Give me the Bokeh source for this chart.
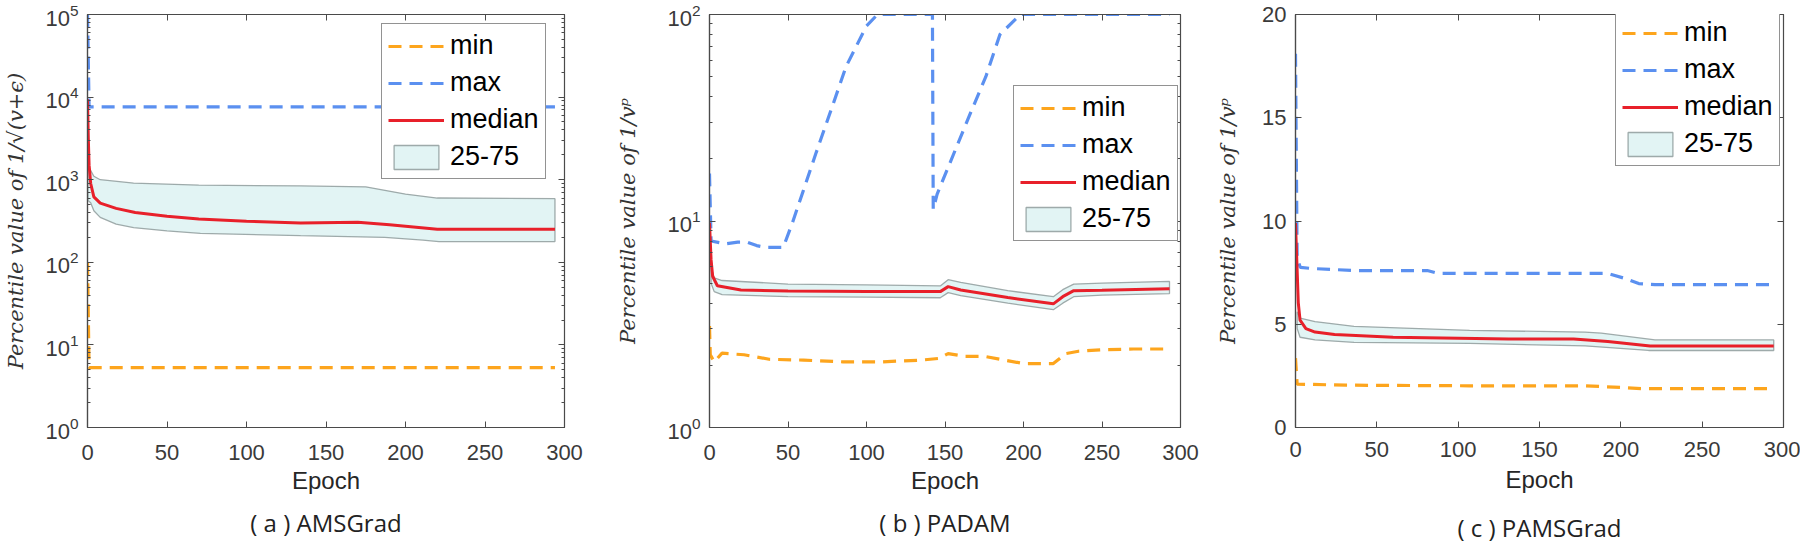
from bokeh.plotting import figure
from bokeh.layouts import row
from bokeh.models import (Range1d, FixedTicker, LinearAxis,
                          Legend, LegendItem, CustomJSTickFormatter)
from bokeh.embed import file_html
from bokeh.resources import INLINE

# ---------------- tick labels / texts ----------------
x_ticks = [0, 50, 100, 150, 200, 250, 300]
a_y_ticks = [1, 10, 100, 1000, 10000, 100000]
b_y_ticks = [1, 10, 100]
c_y_ticks = [0, 5, 10, 15, 20]
legend_labels = ["min", "max", "median", "25-75"]
captions = ["( a ) AMSGrad", "( b ) PADAM", "( c ) PAMSGrad"]
y_labels = ["Percentile value of 1/\u221a(v+\u03f5)",
            "Percentile value of 1/v\u1d56",
            "Percentile value of 1/v\u1d56"]

# ---------------- panel (a) AMSGrad ----------------
a_max_epoch = [0, 1, 294]
a_max = [100000, 7600, 7600]
a_min_epoch = [0, 1, 294]
a_min = [100, 5.3, 5.3]
a_med_epoch = [0, 0.5, 1, 2, 4, 8, 18, 30, 50, 70, 100, 134, 170, 190, 205, 220, 294]
a_med = [9400, 3200, 1500, 900, 620, 520, 450, 400, 360, 335, 315, 300, 305, 285, 268, 252, 252]
a_hi_epoch = [0.3, 1, 4, 8, 29, 70, 134, 175, 200, 220, 294]
a_p75 = [1650, 1400, 1100, 1000, 910, 860, 840, 820, 670, 600, 590]
a_lo_epoch = [0.3, 2, 4, 8, 18, 29, 50, 71, 134, 187, 211, 221, 294]
a_p25 = [560, 525, 420, 350, 290, 263, 240, 224, 210, 200, 186, 178, 178]

# ---------------- panel (b) PADAM ----------------
b_max_epoch = [0, 1, 10, 18, 24, 30, 36, 47, 53, 68, 78, 87, 100, 107, 142, 142.5, 145, 166, 176, 185, 198, 293]
b_max = [17, 8.0, 7.75, 7.9, 7.9, 7.6, 7.45, 7.45, 9.9, 21.5, 35.5, 56, 88, 100, 100, 11.4, 13.5, 33, 50, 80, 100, 100]
b_min_epoch = [0, 0.5, 3, 8, 22, 38, 60, 85, 110, 135, 146, 152, 163, 175, 188, 200, 219, 227, 235, 250, 270, 293]
b_min = [3.1, 2.25, 2.08, 2.29, 2.25, 2.14, 2.12, 2.08, 2.08, 2.12, 2.16, 2.28, 2.21, 2.21, 2.12, 2.04, 2.04, 2.28, 2.34, 2.38, 2.40, 2.40]
b_med_epoch = [0, 1, 2, 5, 20, 50, 100, 147, 152, 160, 190, 219, 225, 232, 250, 293]
b_med = [9.8, 6.5, 5.4, 4.86, 4.63, 4.58, 4.55, 4.55, 4.81, 4.63, 4.26, 3.97, 4.3, 4.6, 4.62, 4.7]
b_hi_epoch = [1, 3, 8, 50, 100, 147, 152, 160, 190, 219, 225, 232, 250, 293]
b_p75 = [6.0, 5.3, 5.15, 4.95, 4.9, 4.85, 5.2, 5.05, 4.6, 4.3, 4.65, 4.95, 5.0, 5.1]
b_lo_epoch = [1, 3, 8, 50, 100, 147, 152, 160, 190, 219, 225, 232, 250, 293]
b_p25 = [5.0, 4.55, 4.4, 4.3, 4.28, 4.25, 4.5, 4.35, 4.0, 3.72, 4.0, 4.3, 4.38, 4.45]

# ---------------- panel (c) PAMSGrad ----------------
c_max_epoch = [0, 1, 3, 10, 36, 81, 88, 192, 202, 211, 221, 294]
c_max = [18.1, 8.2, 7.75, 7.7, 7.6, 7.6, 7.46, 7.46, 7.23, 6.97, 6.92, 6.92]
c_min_epoch = [0, 1, 31, 107, 178, 202, 214, 294]
c_min = [3.36, 2.1, 2.05, 2.02, 2.02, 1.93, 1.88, 1.88]
c_med_epoch = [0, 1.7, 2.8, 6.4, 12, 24, 60, 131, 171, 192, 218, 294]
c_med = [9.9, 6.05, 5.2, 4.79, 4.62, 4.50, 4.37, 4.29, 4.29, 4.17, 3.95, 3.95]
c_hi_epoch = [1, 2.8, 12, 36, 107, 178, 188, 221, 294]
c_p75 = [5.6, 5.3, 5.13, 4.9, 4.7, 4.62, 4.57, 4.24, 4.24]
c_lo_epoch = [1, 2.8, 12, 36, 107, 178, 217, 294]
c_p25 = [4.8, 4.37, 4.24, 4.12, 4.07, 3.95, 3.73, 3.73]

# ---------------- styles ----------------
AX = "#4a4a4a"
TICK_TXT = "#3a3a3a"
ORANGE = "#fda51d"
BLUE = "#5b90f0"
RED = "#e8202a"
BAND_FILL = "#e2f4f4"
BAND_LINE = "#8f9c9c"
H = 549


def log_minor(ticks):
    out = []
    for t in ticks[:-1]:
        out += [t * m for m in range(2, 10)]
    return out


def blank_axis(ticks, minor):
    return LinearAxis(ticker=FixedTicker(ticks=ticks, minor_ticks=minor),
                      formatter=CustomJSTickFormatter(code="return ''"),
                      major_tick_in=6, major_tick_out=0,
                      minor_tick_in=3, minor_tick_out=0,
                      major_label_text_font_size="1px", major_label_standoff=0,
                      axis_line_color=AX, major_tick_line_color=AX,
                      minor_tick_line_color=AX if minor else None)


def caption_axis(text, standoff):
    return LinearAxis(ticker=FixedTicker(ticks=[], minor_ticks=[]),
                      formatter=CustomJSTickFormatter(code="return ''"),
                      axis_line_color=None, major_tick_line_color=None,
                      minor_tick_line_color=None, major_tick_out=0, major_tick_in=0,
                      major_label_standoff=0, major_label_text_font_size="1px",
                      axis_label=text, axis_label_standoff=standoff,
                      axis_label_text_font="Open Sans",
                      axis_label_text_font_size="24px",
                      axis_label_text_font_style="normal",
                      axis_label_text_color="#222222")


def make_panel(log, yr, yticks, width, mbl, mbr, mbt, mbb,
               mx_e, mx, mn_e, mn, md_e, md, hi_e, hi, lo_e, lo,
               leg_xy, ylabel, ylab_standoff, caption, cap_standoff,
               tick_standoff, lab_standoff):
    p = figure(width=width, height=H, x_range=Range1d(0, 300), y_range=Range1d(*yr),
               y_axis_type="log" if log else "linear",
               output_backend="svg", toolbar_location=None,
               min_border_left=mbl, min_border_right=mbr,
               min_border_top=mbt, min_border_bottom=mbb)
    p.grid.visible = False
    p.outline_line_color = AX
    p.outline_line_width = 1.2
    p.background_fill_color = "white"
    p.border_fill_color = "white"

    band = p.patch(hi_e + lo_e[::-1], hi + lo[::-1], fill_color=BAND_FILL,
                   line_color=BAND_LINE, line_width=1.3, line_alpha=0.85)
    lmin = p.line(mn_e, mn, line_color=ORANGE, line_width=3.2, line_dash="13 8")
    lmax = p.line(mx_e, mx, line_color=BLUE, line_width=3.2, line_dash="13 8")
    lmed = p.line(md_e, md, line_color=RED, line_width=3)

    yminor = log_minor(yticks) if log else []
    p.xaxis.ticker = FixedTicker(ticks=x_ticks, minor_ticks=[])
    p.yaxis.ticker = FixedTicker(ticks=yticks, minor_ticks=yminor)
    for ax in (p.xaxis[0], p.yaxis[0]):
        ax.axis_line_color = AX
        ax.axis_line_width = 1.2
        ax.major_tick_line_color = AX
        ax.minor_tick_line_color = AX
        ax.major_tick_in = 6
        ax.major_tick_out = 0
        ax.minor_tick_in = 3
        ax.minor_tick_out = 0
        ax.major_label_text_font = "Liberation Sans"
        ax.major_label_text_font_size = "22px"
        ax.major_label_text_color = TICK_TXT
    if not log:
        p.yaxis.minor_tick_line_color = None
    p.xaxis.minor_tick_line_color = None
    p.xaxis.major_label_standoff = tick_standoff
    p.yaxis.major_label_standoff = 9
    p.xaxis.axis_label = "Epoch"
    p.xaxis.axis_label_text_font = "Liberation Sans"
    p.xaxis.axis_label_text_font_style = "normal"
    p.xaxis.axis_label_text_font_size = "24px"
    p.xaxis.axis_label_text_color = "#262626"
    p.xaxis.axis_label_standoff = lab_standoff

    p.yaxis.axis_label = ylabel
    p.yaxis.axis_label_text_font = "DejaVu Serif"
    p.yaxis.axis_label_text_font_style = "italic"
    p.yaxis.axis_label_text_font_size = "21px"
    p.yaxis.axis_label_text_color = "#333333"
    p.yaxis.axis_label_standoff = ylab_standoff

    p.add_layout(blank_axis(x_ticks, []), "above")
    p.add_layout(blank_axis(yticks, yminor), "right")
    p.add_layout(caption_axis(caption, cap_standoff), "below")

    legend = Legend(items=[LegendItem(label=legend_labels[0], renderers=[lmin]),
                           LegendItem(label=legend_labels[1], renderers=[lmax]),
                           LegendItem(label=legend_labels[2], renderers=[lmed]),
                           LegendItem(label=legend_labels[3], renderers=[band])],
                    location=leg_xy, margin=0, padding=6, spacing=6,
                    glyph_width=56, glyph_height=30, label_height=30,
                    label_standoff=6, label_text_font="Liberation Sans",
                    label_text_font_size="27px", label_text_color="#000000",
                    border_line_color="#262626", border_line_width=1,
                    background_fill_color="white", background_fill_alpha=1)
    p.add_layout(legend)
    return p


pa = make_panel(True, (1, 100000), a_y_ticks, 600, 87, 36, 14, 116,
                a_max_epoch, a_max, a_min_epoch, a_min, a_med_epoch, a_med,
                a_hi_epoch, a_p75, a_lo_epoch, a_p25,
                (294, 248), y_labels[0], 14, captions[0], 9, 17, 4)
pb = make_panel(True, (1, 100), b_y_ticks, 600, 109, 20, 14, 116,
                b_max_epoch, b_max, b_min_epoch, b_min, b_med_epoch, b_med,
                b_hi_epoch, b_p75, b_lo_epoch, b_p25,
                (304, 186), y_labels[1], 24, captions[1], 9, 17, 4)
pc = make_panel(False, (0, 20), c_y_ticks, 600, 95, 17, 12, 122,
                c_max_epoch, c_max, c_min_epoch, c_min, c_med_epoch, c_med,
                c_hi_epoch, c_p75, c_lo_epoch, c_p25,
                (320, 261), y_labels[2], 19, captions[2], 15, 14, 6)

layout = row(pa, pb, pc)
open("out.html", "w").write(file_html(layout, INLINE, title="Percentile values"))
